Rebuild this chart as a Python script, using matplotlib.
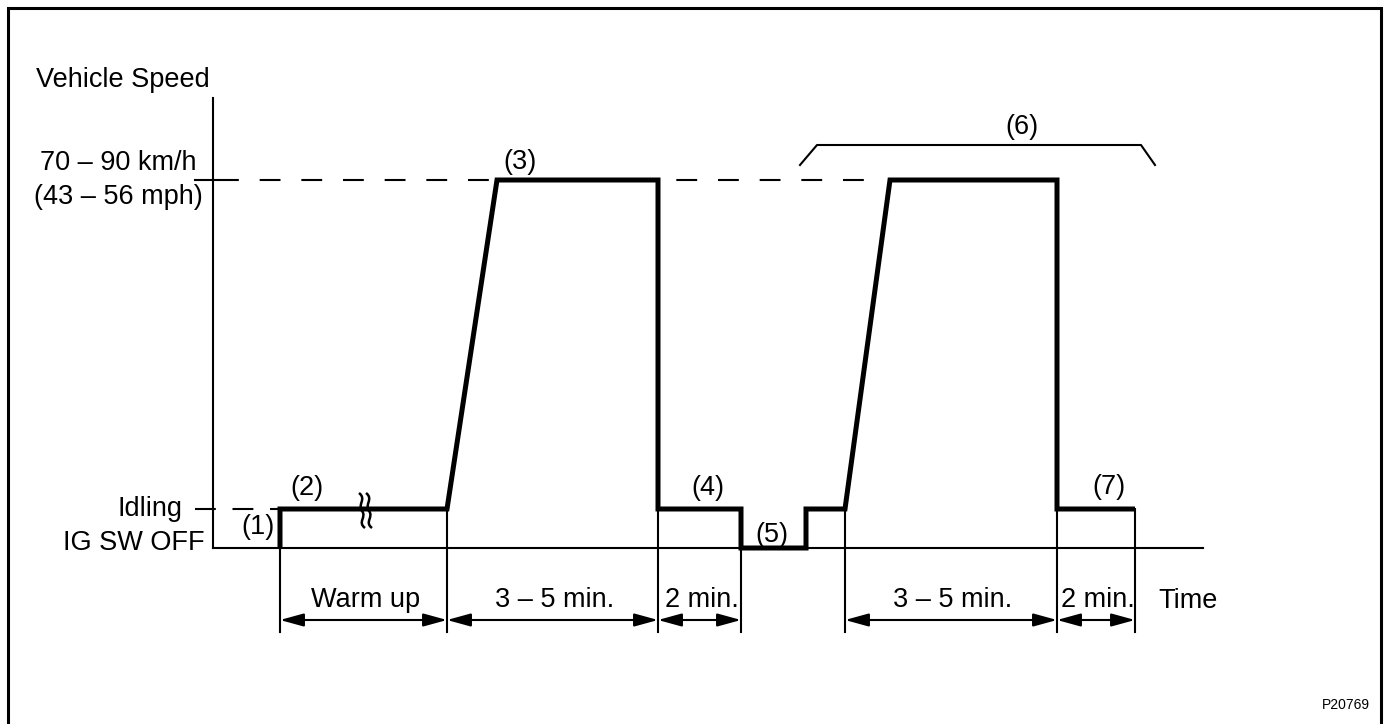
import matplotlib.pyplot as plt
from matplotlib.path import Path
from matplotlib.patches import PathPatch

plt.rcParams['font.family'] = ['Liberation Sans', 'DejaVu Sans']

# speed profile breakpoints (time units, speed units above IG SW OFF)
t_pts = [67, 67, 234, 284, 445, 445, 528, 528, 593, 593, 632, 677, 844, 844, 922]
v_pts = [0, 39, 39, 368, 368, 39, 39, 0, 0, 39, 39, 368, 368, 39, 39]

idle_v = 39
high_v = 368

# thin extension lines: (time, speed where it starts)
ext_t = [67, 234, 445, 528, 632, 844, 922]
ext_v = [0, 39, 39, 0, 39, 39, 39]

# dimension spans
span_start = [67, 234, 445, 632, 844]
span_end = [234, 445, 528, 844, 922]
span_text = ['Warm up', '3 \u2013 5 min.', '2 min.', '3 \u2013 5 min.', '2 min.']

step_labels = ['(1)', '(2)', '(3)', '(4)', '(5)', '(6)', '(7)']
step_t = [45, 94, 307, 495, 559, 809, 896]
step_v = [21, 60, 386, 60, 13, 421, 61]

fig = plt.figure(figsize=(13.89, 7.24), dpi=100)
ax = fig.add_axes([0, 0, 1, 1])
ax.set_xlim(-213, 1176)
ax.set_ylim(-176, 548)
ax.axis('off')

FS = 19.5
thin = 1.5

# outer frame
ax.plot([-205, -205, 1168, 1168], [-200, 540, 540, -200], color='black', lw=2.2,
        solid_joinstyle='miter', clip_on=False)

# axes
ax.plot([0, 0], [0, 450], color='black', lw=thin)
ax.plot([0, 990], [0, 0], color='black', lw=thin)

# level ticks + dashed guides
ax.plot([-18, 5], [high_v, high_v], color='black', lw=thin)
ax.plot([5, 667], [high_v, high_v], color='black', lw=thin, dashes=(10, 10))
ax.plot([-18, 67], [idle_v, idle_v], color='black', lw=thin, dashes=(10, 8))

# speed profile
ax.plot(t_pts, v_pts, color='black', lw=3.6, solid_joinstyle='miter', solid_capstyle='butt')

# break mark on warm-up idling (two wavy strokes)
for x in (149, 156):
    verts = [(x - 3, 55), (x + 5, 49), (x - 5, 43), (x, 37),
             (x + 5, 31), (x - 5, 26), (x + 3, 20)]
    codes = [Path.MOVETO] + [Path.CURVE4] * 6
    ax.add_patch(PathPatch(Path(verts, codes), fill=False, lw=1.8, edgecolor='black'))

# extension lines
for t, v in zip(ext_t, ext_v):
    ax.plot([t, t], [v, -84], color='black', lw=thin)

# dimension arrows
for a, b, s in zip(span_start, span_end, span_text):
    ax.annotate('', xy=(b, -72), xytext=(a, -72),
                arrowprops=dict(arrowstyle='<|-|>,head_length=0.8,head_width=0.22',
                                color='black', lw=thin, mutation_scale=18,
                                shrinkA=0, shrinkB=0))
    ax.text((a + b) / 2 + 2, -52, s, fontsize=FS, ha='center', va='center')

# bracket for (6)
ax.plot([587, 604, 928, 942], [383, 403, 403, 383], color='black', lw=thin)

# labels
for s, t, v in zip(step_labels, step_t, step_v):
    ax.text(t, v, s, fontsize=FS, ha='center', va='center')

ax.text(-177, 468, 'Vehicle Speed', fontsize=FS, ha='left', va='center')
ax.text(-95, 385, '70 \u2013 90 km/h', fontsize=FS, ha='center', va='center')
ax.text(-95, 351, '(43 \u2013 56 mph)', fontsize=FS, ha='center', va='center')
ax.text(-30, idle_v, 'Idling', fontsize=FS, ha='right', va='center')
ax.text(-8, 5, 'IG SW OFF', fontsize=FS, ha='right', va='center')
ax.text(945, -53, 'Time', fontsize=FS, ha='left', va='center')
ax.text(1157, -157, 'P20769', fontsize=10, ha='right', va='center')

fig.savefig('out.png', dpi=100)
